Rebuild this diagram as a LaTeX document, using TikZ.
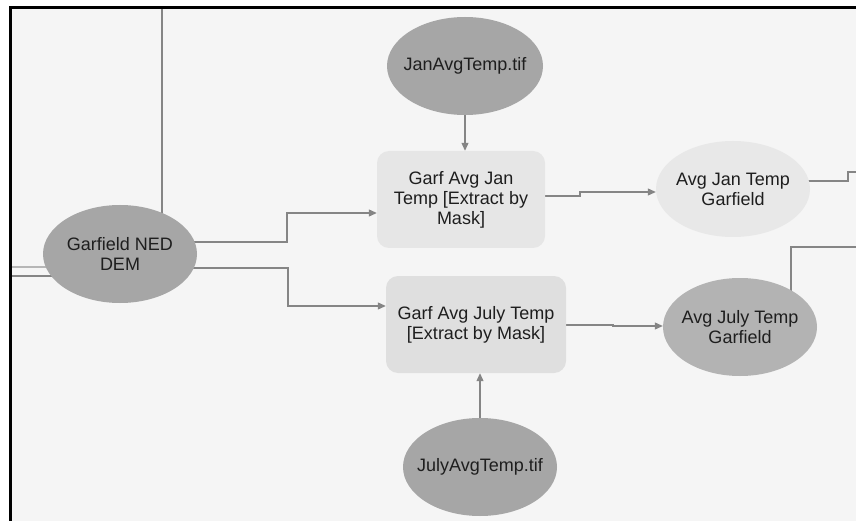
\documentclass[tikz,border=0pt]{standalone}
\usepackage{fontspec}
\setmainfont{Liberation Sans}
\usetikzlibrary{shapes.geometric,arrows.meta,backgrounds}
\definecolor{bg}{HTML}{F5F5F5}
\definecolor{txt}{HTML}{1E1E1E}
\definecolor{ln}{HTML}{858585}
\definecolor{darkov}{HTML}{A6A6A6}
\definecolor{midov}{HTML}{B3B3B3}
\definecolor{lightov}{HTML}{E8E8E8}
\definecolor{boxA}{HTML}{E6E6E6}
\definecolor{boxB}{HTML}{DFDFDF}
\begin{document}
\begin{tikzpicture}[x=1pt,y=-1pt,
  every node/.style={font=\fontsize{18}{20}\selectfont, text=txt, align=center, inner sep=0pt},
  dataov/.style={ellipse, fill=#1, inner xsep=-16pt, minimum width=154pt, minimum height=98pt},
  toolbox/.style={rectangle, rounded corners=12pt, fill=#1, minimum height=97pt},
  conn/.style={draw=ln, line width=1.1pt},
  arr/.style={conn, -{Triangle[length=8pt,width=7pt]}}
]
\useasboundingbox (0,0) rectangle (856,521);

% nodes
\node[dataov=darkov] (DEM) at (120,254) {Garfield NED\\DEM};
\node[dataov=darkov, minimum width=156pt] (JanT) at (465,66) {JanAvgTemp.tif};
\node[toolbox=boxA, minimum width=168pt] (Jan) at (461,199.5) {Garf Avg Jan\\Temp [Extract by\\Mask]};
\node[toolbox=boxB, minimum width=180pt] (July) at (476,324.5) {Garf Avg July Temp\\{}[Extract by Mask]};
\node[dataov=darkov] (JulyT) at (480,467) {JulyAvgTemp.tif};
\node[dataov=lightov, minimum height=96pt] (AJ) at (733,189) {Avg Jan Temp\\Garfield};
\node[dataov=midov] (AJul) at (740,327) {Avg July Temp\\Garfield};

% free ends
\coordinate (topA) at (162,8);
\coordinate (leftA) at (10,267);
\coordinate (leftB) at (10,276);
\coordinate (outA) at (856,172);
\coordinate (outB) at (856,247);

\begin{scope}[on background layer]
\fill[white] (0,0) rectangle (856,521);
\fill[bg] (10,8) rectangle (856,521);
% connectors (parts inside the ellipses are hidden by the fills)
\draw[conn] (topA) -- (topA |- DEM.center);
\draw[conn, draw=ln!60, line width=2pt] (leftA) -- (leftA -| DEM.center);
\draw[conn] (leftB) -- (leftB -| DEM.center);
\draw[arr] (DEM.center |- 0,242) -- (287,242) -- (287,213) -- (Jan.west |- 0,213);
\draw[arr] (DEM.center |- 0,268) -- (288,268) -- (288,306) -- (July.west |- 0,306);
\draw[arr] (JanT.south) -- (JanT.south |- Jan.north);
\draw[arr] (JulyT.north) -- (JulyT.north |- July.south);
\draw[arr] (Jan.east |- 0,196) -- (580,196) -- (580,192) -- (AJ.west |- 0,192);
\draw[arr] (July.east |- 0,325) -- (613,325) -- (613,326) -- (AJul.west |- 0,326);
\draw[conn] (AJ.center |- 0,181) -- (848,181) -- (848,172) -- (outA);
\draw[conn] (AJul.center -| 791,0) -- (791,247) -- (outB);
\end{scope}

% frame
\draw[line width=3pt, black] (857,8) -- (10,8) -- (10,522);
\end{tikzpicture}
\end{document}
